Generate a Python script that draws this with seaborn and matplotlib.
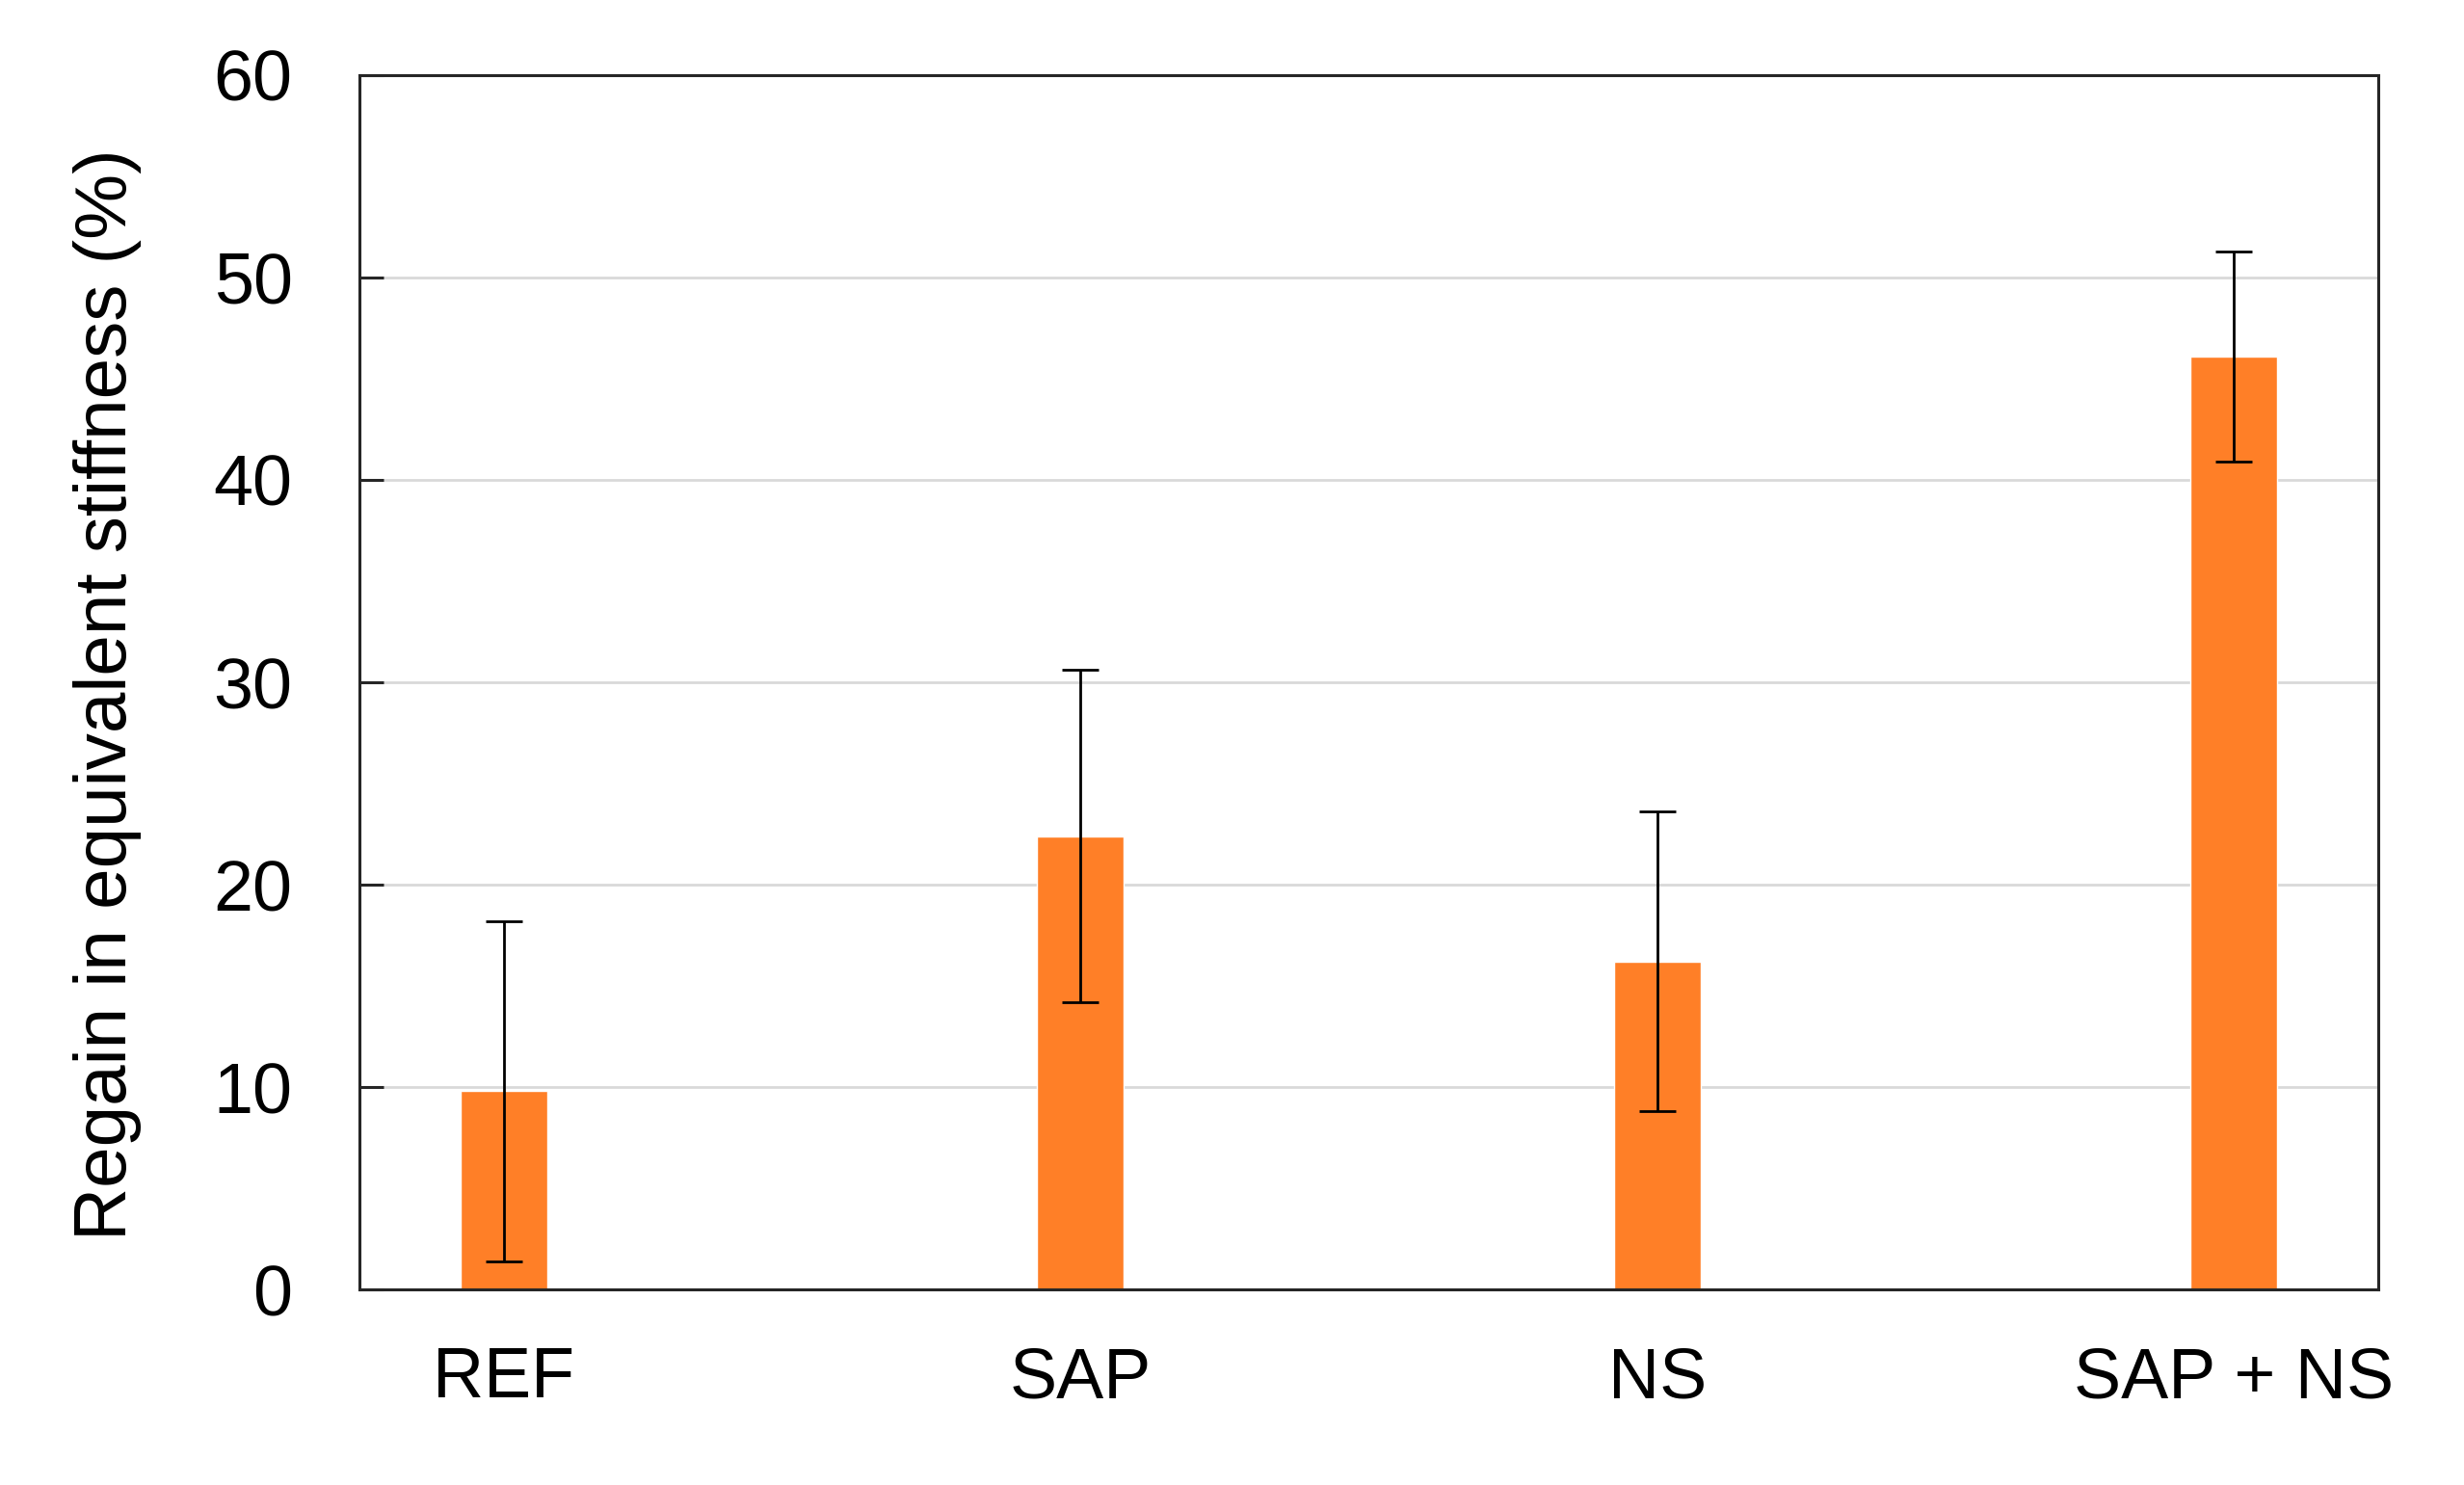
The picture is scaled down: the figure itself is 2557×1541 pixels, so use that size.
import numpy as np
import pandas as pd
import matplotlib
matplotlib.use("Agg")
import matplotlib.pyplot as plt
import seaborn as sns

# Values
categories = ["REF", "SAP", "NS", "SAP + NS"]
regain_mean = [9.8, 22.4, 16.2, 46.1]
regain_err = [8.4, 8.2, 7.4, 5.2]
y_ticks = [0, 10, 20, 30, 40, 50, 60]

df = pd.DataFrame({"Group": categories, "Regain": regain_mean})

sns.set_theme(style="white")
plt.rcParams["font.family"] = ["Liberation Sans", "DejaVu Sans"]

fig = plt.figure(figsize=(25.57, 15.41), dpi=100)
ax = fig.add_axes([0.1459, 0.1317, 0.8193, 0.8177])

sns.barplot(data=df, x="Group", y="Regain", color="#FF7F27", saturation=1,
            width=0.15, errorbar=None, ax=ax)

# error bars (one value per group)
pos = np.arange(len(categories))
ax.errorbar(pos, regain_mean, yerr=regain_err, fmt="none", ecolor="black",
            elinewidth=2.0, capsize=14, capthick=2.0)

ax.set_xlim(-0.25, len(categories) - 0.75)
ax.set_ylim(0, 60)
ax.set_yticks(y_ticks)
ax.yaxis.grid(True, color="#D9D9D9", linewidth=2)
ax.set_axisbelow(True)

for s in ax.spines.values():
    s.set_visible(True)
    s.set_color("#262626")
    s.set_linewidth(2.2)

# inward ticks on the y axis only
ax.tick_params(axis="y", left=True, direction="in", length=18, width=2.2,
               color="#262626", labelsize=53, pad=50, labelcolor="black")
ax.tick_params(axis="x", bottom=False, length=0, labelsize=53, pad=42,
               labelcolor="black")

ax.set_xlabel("")
ax.set_ylabel("Regain in equivalent stiffness (%)", fontsize=55, color="black")
ax.yaxis.set_label_coords(-0.108, 0.49)

plt.savefig("out.png", dpi=100)
